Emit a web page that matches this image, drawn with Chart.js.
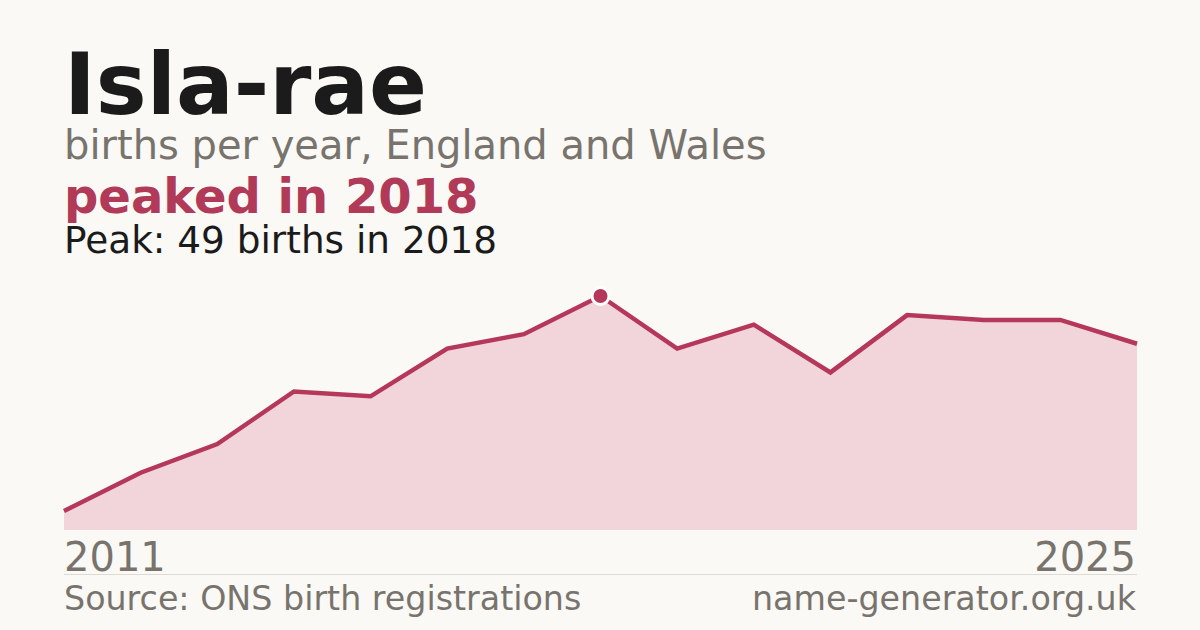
<!DOCTYPE html>
<html>
<head>
<meta charset="utf-8">
<script src="https://cdn.jsdelivr.net/npm/chart.js@4/dist/chart.umd.min.js"></script>
<style>
  html, body { margin: 0; padding: 0; }
  body { width: 1200px; height: 630px; background: #faf9f5; position: relative; overflow: hidden;
         font-family: "DejaVu Sans", sans-serif; }
  .t { position: absolute; left: 64px; white-space: nowrap; }
  #title    { top: 42px;  font-size: 85.5px; line-height: 85.5px; font-weight: bold; color: #1b1b1b; }
  #subtitle { top: 125px; font-size: 40px; line-height: 40px; color: #78746d; }
  #headline { top: 172px; font-size: 48px; line-height: 48px; font-weight: bold; color: #b03a58; }
  #peak     { top: 222px; font-size: 37.4px; line-height: 37.4px; color: #1b1b1b; }
  .axis     { top: 537px; font-size: 40px; line-height: 40px; color: #78746d; }
  #xmax     { left: auto; right: 64px; }
  .foot     { top: 582px; font-size: 33.3px; line-height: 33.3px; color: #78746d; }
  #site     { left: auto; right: 64px; }
  #rule     { position: absolute; left: 64px; width: 1073px; top: 574px; height: 1px; background: #dedbd4; }
  #wrap     { position: absolute; left: 54px; top: 276px; width: 1093px; height: 256px; }
</style>
</head>
<body>
<div id="title" class="t">Isla-rae</div>
<div id="subtitle" class="t">births per year, England and Wales</div>
<div id="headline" class="t">peaked in 2018</div>
<div id="peak" class="t">Peak: 49 births in 2018</div>
<div id="wrap"><canvas id="chart"></canvas></div>
<div id="xmin" class="t axis">2011</div>
<div id="xmax" class="t axis">2025</div>
<div id="rule"></div>
<div class="t foot">Source: ONS birth registrations</div>
<div id="site" class="t foot">name-generator.org.uk</div>
<script>
  /* data */
  const years  = ['2011','2012','2013','2014','2015','2016','2017','2018','2019','2020','2021','2022','2023','2024','2025'];
  const births = [4, 12, 18, 29, 28, 38, 41, 49, 38, 43, 33, 45, 44, 44, 39];
  const peakYear = '2018';

  const RED  = '#b5385a';
  const FILL = '#f1d5da';

  const peakIdx = years.indexOf(peakYear);

  new Chart(document.getElementById('chart').getContext('2d'), {
    type: 'line',
    data: {
      labels: years,
      datasets: [{
        data: births,
        clip: false,
        borderColor: RED,
        borderWidth: 4.5,
        backgroundColor: FILL,
        fill: 'origin',
        tension: 0,
        pointRadius: ctx => ctx.dataIndex === peakIdx ? 8.5 : 0,
        pointBackgroundColor: RED,
        pointBorderColor: '#ffffff',
        pointBorderWidth: 3,
        pointHoverRadius: 0
      }]
    },
    options: {
      responsive: true,
      maintainAspectRatio: false,
      animation: false,
      layout: { padding: { left: 10, right: 10, top: 20, bottom: 2 } },
      plugins: { legend: { display: false }, tooltip: { enabled: false } },
      scales: {
        x: { display: false, offset: false },
        y: { display: false, min: 0, max: 49 }
      }
    }
  });
</script>
</body>
</html>
